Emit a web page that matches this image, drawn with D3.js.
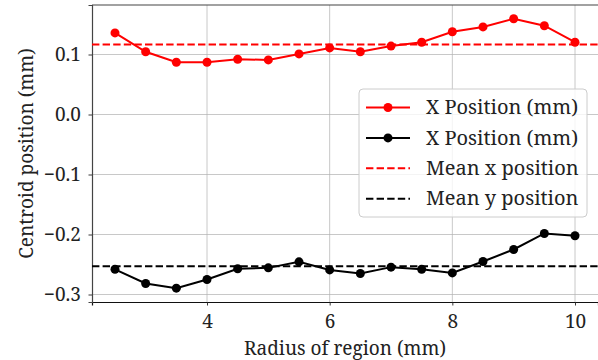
<!DOCTYPE html>
<html>
<head>
<meta charset="utf-8">
<script src="https://cdn.jsdelivr.net/npm/d3@7"></script>
<style>
  body { margin: 0; background: #fff; }
</style>
</head>
<body>
<div id="chart"></div>
<script>
// values
const radius = [2.5, 3, 3.5, 4, 4.5, 5, 5.5, 6, 6.5, 7, 7.5, 8, 8.5, 9, 9.5, 10];
const xPos = [0.136, 0.1045, 0.087, 0.087, 0.092, 0.091, 0.101, 0.111, 0.1045, 0.114, 0.1205, 0.138, 0.146, 0.1595, 0.148, 0.1205];
const yPos = [-0.258, -0.2817, -0.2894, -0.275, -0.257, -0.2556, -0.2456, -0.259, -0.265, -0.2544, -0.258, -0.264, -0.245, -0.225, -0.1983, -0.202];
const meanX = 0.1167;
const meanY = -0.2528;
const xTicks = [4, 6, 8, 10];
const yTicks = [0.1, 0.0, -0.1, -0.2, -0.3];
const legendLabels = ['X Position (mm)', 'X Position (mm)', 'Mean x position', 'Mean y position'];

const FONT = '"Noto Serif"';
const width = 598, height = 360;
const margin = { top: 5, right: 0, bottom: 58, left: 92 };

const svg = d3.select('#chart').append('svg')
  .attr('width', width)
  .attr('height', height);

const x = d3.scaleLinear()
  .domain([2.125, 10.375])
  .range([margin.left, width - margin.right]);

const y = d3.scaleLinear()
  .domain([-0.3125, 0.1825])
  .range([height - margin.bottom, margin.top]);

// grid
svg.append('g').selectAll('line')
  .data(xTicks).enter().append('line')
  .attr('x1', d => x(d)).attr('x2', d => x(d))
  .attr('y1', margin.top).attr('y2', height - margin.bottom)
  .attr('stroke', '#b0b0b0').attr('stroke-opacity', 0.7).attr('stroke-width', 1);

svg.append('g').selectAll('line')
  .data(yTicks).enter().append('line')
  .attr('x1', margin.left).attr('x2', width - margin.right)
  .attr('y1', d => y(d)).attr('y2', d => y(d))
  .attr('stroke', '#b0b0b0').attr('stroke-opacity', 0.7).attr('stroke-width', 1);

// axes
const fmt = d => d3.format('.1f')(d).replace('-', '\u2212');

const xAxis = svg.append('g')
  .attr('transform', 'translate(0,' + (height - margin.bottom) + ')')
  .call(d3.axisBottom(x).tickValues(xTicks).tickSize(3.5).tickPadding(9).tickFormat(d3.format('d')));

const yAxis = svg.append('g')
  .attr('transform', 'translate(' + margin.left + ',0)')
  .call(d3.axisLeft(y).tickValues(yTicks).tickSize(3.5).tickPadding(7.5).tickFormat(fmt));

[xAxis, yAxis].forEach(a => {
  a.selectAll('text')
    .style('font-family', FONT)
    .style('font-size', '19px')
    .attr('fill', '#222');
  a.selectAll('.tick line').attr('stroke', '#222').attr('stroke-width', 0.9);
});
xAxis.select('.domain').attr('stroke', '#111').attr('stroke-width', 1.2);
yAxis.select('.domain').attr('stroke', '#444').attr('stroke-width', 1.2);

svg.append('line')
  .attr('x1', margin.left).attr('x2', width)
  .attr('y1', margin.top).attr('y2', margin.top)
  .attr('stroke', '#444').attr('stroke-width', 1.2);

// mean lines
[[meanX, 'red'], [meanY, 'black']].forEach(([v, c]) => {
  svg.append('line')
    .attr('x1', margin.left).attr('x2', width - margin.right)
    .attr('y1', y(v)).attr('y2', y(v))
    .attr('stroke', c).attr('stroke-width', 2)
    .attr('stroke-dasharray', '7.4,3.2');
});

// series
const line = d3.line().x(d => x(d[0])).y(d => y(d[1]));
[[xPos, 'red'], [yPos, 'black']].forEach(([vals, c]) => {
  const pts = radius.map((r, i) => [r, vals[i]]);
  svg.append('path')
    .datum(pts)
    .attr('d', line)
    .attr('fill', 'none')
    .attr('stroke', c)
    .attr('stroke-width', 2);
  svg.append('g').selectAll('circle')
    .data(pts).enter().append('circle')
    .attr('cx', d => x(d[0])).attr('cy', d => y(d[1]))
    .attr('r', 4.5).attr('fill', c);
});

// axis labels
svg.append('text')
  .attr('x', (margin.left + width) / 2)
  .attr('y', 355)
  .attr('text-anchor', 'middle')
  .attr('fill', '#222')
  .style('font-family', FONT)
  .style('font-size', '19px')
  .text('Radius of region (mm)');

svg.append('text')
  .attr('transform', 'translate(33,' + ((margin.top + height - margin.bottom) / 2) + ') rotate(-90)')
  .attr('text-anchor', 'middle')
  .attr('fill', '#222')
  .style('font-family', FONT)
  .style('font-size', '19px')
  .text('Centroid position (mm)');

// legend
const lg = svg.append('g');
lg.append('rect')
  .attr('x', 359).attr('y', 89).attr('width', 228).attr('height', 128)
  .attr('rx', 4)
  .attr('fill', 'white').attr('fill-opacity', 0.8)
  .attr('stroke', '#cccccc').attr('stroke-width', 1);

const legendStyle = [
  { c: 'red', dash: null, marker: true },
  { c: 'black', dash: null, marker: true },
  { c: 'red', dash: '7.4,3.2', marker: false },
  { c: 'black', dash: '7.4,3.2', marker: false }
];

legendLabels.forEach((t, i) => {
  const cy = 107.5 + i * 30.4;
  const s = legendStyle[i];
  lg.append('line')
    .attr('x1', 366).attr('x2', 410)
    .attr('y1', cy).attr('y2', cy)
    .attr('stroke', s.c).attr('stroke-width', 2)
    .attr('stroke-dasharray', s.dash);
  if (s.marker) {
    lg.append('circle').attr('cx', 388).attr('cy', cy).attr('r', 4.5).attr('fill', s.c);
  }
  lg.append('text')
    .attr('x', 426).attr('y', cy)
    .attr('dy', '0.33em')
    .attr('fill', '#222')
    .style('font-family', FONT)
    .style('font-size', '20px')
    .text(t);
});
</script>
</body>
</html>
